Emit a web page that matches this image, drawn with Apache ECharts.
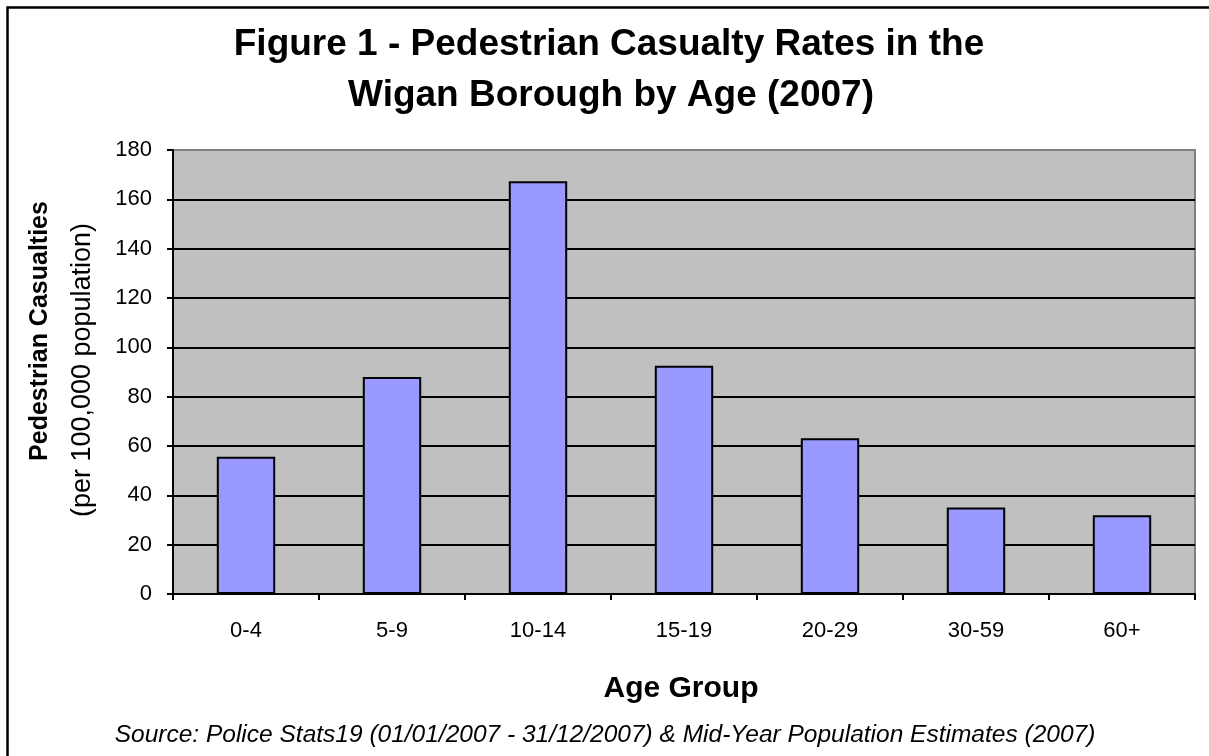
<!DOCTYPE html>
<html>
<head>
<meta charset="utf-8">
<script src="https://cdn.jsdelivr.net/npm/echarts@6/dist/echarts.min.js"></script>
<style>
  html, body { margin: 0; padding: 0; background: #fff; }
  #chart { width: 1209px; height: 756px; }
</style>
</head>
<body>
<div id="chart"></div>
<script>
const categories = ['0-4', '5-9', '10-14', '15-19', '20-29', '30-59', '60+'];
const casualtyRates = [55.6, 88, 167.3, 92.5, 63.1, 35.1, 31.9];
const titleLines = ['Figure 1 - Pedestrian Casualty Rates in the', 'Wigan Borough by Age (2007)'];
const yTitleMain = 'Pedestrian Casualties';
const yTitleSub = '(per 100,000 population)';
const xTitle = 'Age Group';
const sourceText = 'Source: Police Stats19 (01/01/2007 - 31/12/2007) & Mid-Year Population Estimates (2007)';

const FONT = "'Liberation Sans', Arial, sans-serif";
const chart = echarts.init(document.getElementById('chart'), null, { renderer: 'canvas' });

function txt(text, x, y, font, rotation) {
  return {
    type: 'text', x: x, y: y, rotation: rotation || 0, z: 100,
    style: {
      text: text, font: font, fill: '#000',
      textAlign: 'center', textVerticalAlign: 'middle',
      align: 'center', verticalAlign: 'middle'
    }
  };
}

chart.setOption({
  backgroundColor: '#ffffff',
  animation: false,
  grid: {
    left: 173, right: 14, top: 150, bottom: 162,
    show: true, backgroundColor: '#c0c0c0', borderColor: '#808080', borderWidth: 2
  },
  xAxis: {
    type: 'category',
    data: categories,
    axisLine: { lineStyle: { color: '#000', width: 2 } },
    axisTick: { show: true, length: 6, alignWithLabel: false, lineStyle: { color: '#000', width: 2 } },
    axisLabel: { color: '#000', fontSize: 22, fontFamily: FONT, margin: 26 },
    splitLine: { show: false }
  },
  yAxis: {
    type: 'value',
    min: 0, max: 180, interval: 20,
    axisLine: { show: true, lineStyle: { color: '#000', width: 2 } },
    axisTick: { show: true, length: 6, lineStyle: { color: '#000', width: 2 } },
    axisLabel: { color: '#000', fontSize: 22, fontFamily: FONT, margin: 21 },
    splitLine: { show: true, showMaxLine: false, lineStyle: { color: '#000', width: 2 } }
  },
  series: [{
    type: 'bar',
    data: casualtyRates,
    barWidth: '40%',
    itemStyle: { color: '#9999ff', borderColor: '#000', borderWidth: 2 }
  }],
  graphic: [
    { type: 'rect', z: 100, shape: { x: 7.5, y: 7.5, width: 1220, height: 770 },
      style: { fill: 'none', stroke: '#000', lineWidth: 2.5 } },
    txt(titleLines[0], 609, 45, 'bold 37px ' + FONT),
    txt(titleLines[1], 611, 96, 'bold 37px ' + FONT),
    txt(yTitleMain, 40, 331, 'bold 25px ' + FONT, Math.PI / 2),
    txt(yTitleSub, 83, 370, '27px ' + FONT, Math.PI / 2),
    txt(xTitle, 681, 689, 'bold 30px ' + FONT),
    txt(sourceText, 605, 735, 'italic 24.5px ' + FONT)
  ]
});
</script>
</body>
</html>
